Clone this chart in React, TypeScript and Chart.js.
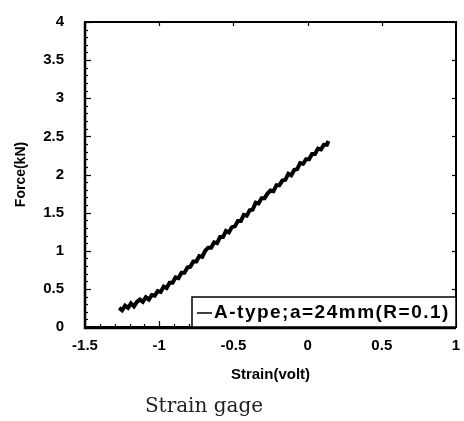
import React, { useEffect, useRef } from "react";
import { Chart, registerables } from "chart.js";

Chart.register(...registerables);

const strain: number[] = [
  -1.27, -1.25, -1.23, -1.21, -1.19, -1.17, -1.15, -1.13, -1.11, -1.09, -1.07, -1.05,
  -1.03, -1.01, -0.99, -0.97, -0.95, -0.93, -0.91, -0.89, -0.87, -0.85, -0.83, -0.81,
  -0.79, -0.77, -0.75, -0.73, -0.71, -0.69, -0.67, -0.65, -0.63, -0.61, -0.59, -0.57,
  -0.55, -0.53, -0.51, -0.49, -0.47, -0.45, -0.43, -0.41, -0.39, -0.37, -0.35, -0.33,
  -0.31, -0.29, -0.27, -0.25, -0.23, -0.21, -0.19, -0.17, -0.15, -0.13, -0.11, -0.09,
  -0.07, -0.05, -0.03, -0.01, 0.01, 0.03, 0.05, 0.07, 0.09, 0.11, 0.13, 0.14,
];

const force: number[] = [
  0.25, 0.22, 0.28, 0.25, 0.31, 0.27, 0.33, 0.36, 0.33, 0.39, 0.36, 0.42,
  0.41, 0.47, 0.46, 0.53, 0.51, 0.58, 0.58, 0.65, 0.64, 0.71, 0.71, 0.78,
  0.79, 0.86, 0.86, 0.93, 0.92, 1.0, 1.04, 1.04, 1.11, 1.1, 1.18, 1.18,
  1.26, 1.24, 1.31, 1.32, 1.39, 1.39, 1.47, 1.46, 1.53, 1.54, 1.63, 1.62,
  1.69, 1.69, 1.75, 1.79, 1.78, 1.86, 1.86, 1.92, 1.93, 2.01, 1.99, 2.06,
  2.07, 2.15, 2.14, 2.2, 2.2, 2.27, 2.27, 2.34, 2.33, 2.39, 2.39, 2.44,
];

const seriesLabel = "A-type;a=24mm(R=0.1)";
const xTitle = "Strain(volt)";
const yTitle = "Force(kN)";
const caption = "Strain gage";
const xMin = -1.5, xMax = 1, xStep = 0.5;
const yMin = 0, yMax = 4, yStep = 0.5;
const minorStep = 0.1;

const SANS = "'Liberation Sans', Arial, sans-serif";
const SERIF = "'DejaVu Serif', 'Liberation Serif', serif";

const framePlugin = {
  id: "frameTicks",
  afterDatasetsDraw(chart: any) {
    const { ctx, chartArea: a, scales } = chart;
    const xs = scales.x, ys = scales.y;
    ctx.save();
    ctx.strokeStyle = "#000";
    ctx.lineWidth = 1.2;
    for (let i = 0; i <= Math.round((yMax - yMin) / minorStep); i++) {
      const v = yMin + i * minorStep;
      const py = Math.round(ys.getPixelForValue(v)) + 0.5;
      const major = Math.abs(v / yStep - Math.round(v / yStep)) < 1e-6;
      const len = major ? 6 : 3;
      ctx.beginPath();
      ctx.moveTo(a.left, py);
      ctx.lineTo(a.left + len, py);
      ctx.stroke();
      if (major) {
        ctx.beginPath();
        ctx.moveTo(a.right, py);
        ctx.lineTo(a.right - 4, py);
        ctx.stroke();
      }
    }
    for (let i = 0; i <= Math.round((xMax - xMin) / minorStep); i++) {
      const v = xMin + i * minorStep;
      const px = Math.round(xs.getPixelForValue(v)) + 0.5;
      const major = Math.abs(v / xStep - Math.round(v / xStep)) < 1e-6;
      const len = major ? 6 : 3;
      ctx.beginPath();
      ctx.moveTo(px, a.bottom);
      ctx.lineTo(px, a.bottom - len);
      ctx.stroke();
      if (major) {
        ctx.beginPath();
        ctx.moveTo(px, a.top);
        ctx.lineTo(px, a.top + 4);
        ctx.stroke();
      }
    }
    ctx.lineWidth = 2;
    ctx.strokeRect(a.left, a.top, a.right - a.left, a.bottom - a.top);
    ctx.lineWidth = 2.5;
    ctx.beginPath();
    ctx.moveTo(a.left, a.top);
    ctx.lineTo(a.left, a.bottom + 1);
    ctx.lineTo(a.right, a.bottom + 1);
    ctx.stroke();

    // legend box
    const bx = 192;
    const h = 30;
    const by = a.bottom - h;
    const w = a.right - bx;
    ctx.fillStyle = "#fff";
    ctx.fillRect(bx, by, w, h);
    ctx.lineWidth = 1.5;
    ctx.strokeRect(bx, by, w, h);
    ctx.beginPath();
    ctx.moveTo(bx + 5, by + h / 2 + 1);
    ctx.lineTo(bx + 20, by + h / 2 + 1);
    ctx.stroke();
    ctx.font = `bold 19px ${SANS}`;
    const natural = ctx.measureText(seriesLabel).width;
    const target = w - 28;
    const ls = Math.max(0, (target - natural) / seriesLabel.length);
    (ctx as any).letterSpacing = `${ls.toFixed(2)}px`;
    ctx.fillStyle = "#000";
    ctx.textBaseline = "middle";
    ctx.textAlign = "left";
    ctx.fillText(seriesLabel, bx + 22, by + h / 2 + 1);
    (ctx as any).letterSpacing = "0px";

    // caption under the figure
    ctx.font = `20px ${SERIF}`;
    ctx.fillStyle = "#222";
    ctx.textAlign = "center";
    ctx.textBaseline = "middle";
    ctx.fillText(caption, 204, chart.height - 14);
    ctx.restore();
  },
};

export default function App() {
  const ref = useRef<HTMLCanvasElement | null>(null);
  useEffect(() => {
    if (!ref.current) return;
    const chart = new Chart(ref.current, {
      type: "line",
      data: {
        datasets: [
          {
            label: seriesLabel,
            data: strain.map((x, i) => ({ x, y: force[i] })),
            borderColor: "#000",
            backgroundColor: "#000",
            borderWidth: 4,
            pointRadius: 0,
            tension: 0,
          },
        ],
      },
      options: {
        animation: false,
        responsive: false,
        maintainAspectRatio: false,
        layout: { padding: { left: 6, top: 21, right: 8, bottom: 29 } },
        plugins: {
          legend: { display: false },
          tooltip: { enabled: false },
        },
        scales: {
          x: {
            type: "linear",
            min: xMin,
            max: xMax,
            grid: { display: false },
            border: { display: false },
            ticks: {
              stepSize: xStep,
              color: "#000",
              padding: 2,
              maxRotation: 0,
              font: { family: SANS, size: 15, weight: "bold" },
              callback: (v: any) => String(v),
            },
            title: {
              display: true,
              text: xTitle,
              color: "#000",
              font: { family: SANS, size: 15, weight: "bold" },
              padding: { top: 0, bottom: 8 },
            },
            afterFit: (s: any) => {
              s.height = 65;
            },
          },
          y: {
            type: "linear",
            min: yMin,
            max: yMax,
            grid: { display: false },
            border: { display: false },
            ticks: {
              stepSize: yStep,
              color: "#000",
              padding: 13,
              font: { family: SANS, size: 15, weight: "bold" },
              callback: (v: any) => String(v),
            },
            title: {
              display: true,
              text: yTitle,
              color: "#000",
              font: { family: SANS, size: 14, weight: "bold" },
              padding: { top: 7, bottom: 0 },
            },
            afterFit: (s: any) => {
              s.width = 79;
            },
          },
        },
      },
      plugins: [framePlugin],
    });
    return () => chart.destroy();
  }, []);
  return (
    <div style={{ position: "fixed", left: 0, top: 0, width: 464, height: 421, background: "#fff" }}>
      <canvas ref={ref} width={464} height={421} style={{ width: 464, height: 421, display: "block" }} />
    </div>
  );
}
